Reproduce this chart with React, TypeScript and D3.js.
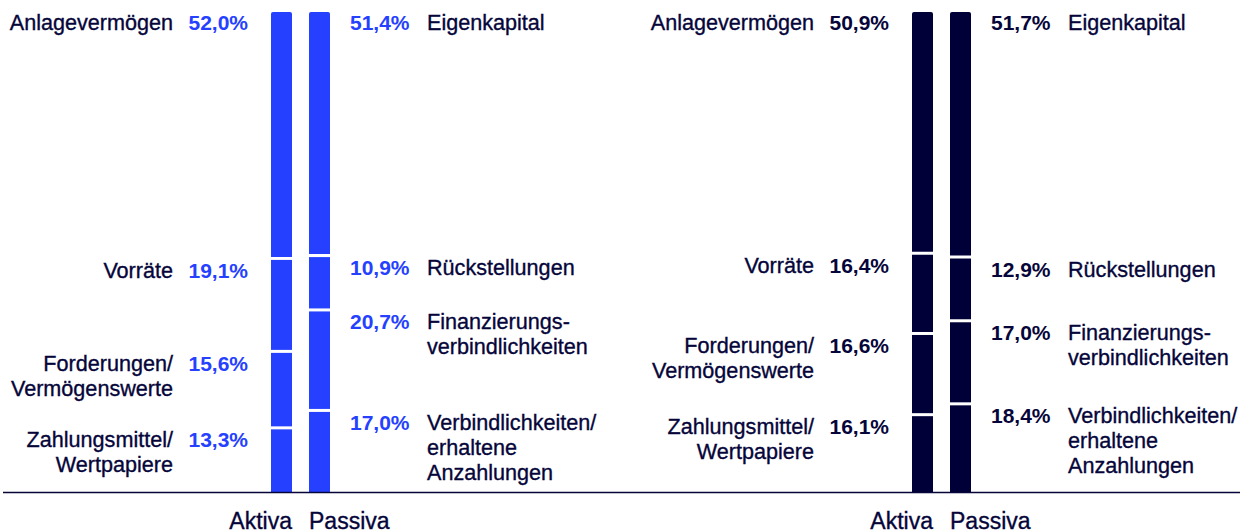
import React from "react";
import * as d3 from "d3";

const aktivaLabels: string[][] = [
  ["Anlagevermögen"],
  ["Vorräte"],
  ["Forderungen/", "Vermögenswerte"],
  ["Zahlungsmittel/", "Wertpapiere"],
];
const passivaLabels: string[][] = [
  ["Eigenkapital"],
  ["Rückstellungen"],
  ["Finanzierungs-", "verbindlichkeiten"],
  ["Verbindlichkeiten/", "erhaltene", "Anzahlungen"],
];
const aktivaLeft = [52.0, 19.1, 15.6, 13.3];
const passivaLeft = [51.4, 10.9, 20.7, 17.0];
const aktivaRight = [50.9, 16.4, 16.6, 16.1];
const passivaRight = [51.7, 12.9, 17.0, 18.4];
const axisLabels = ["Aktiva", "Passiva"];

const W = 1240;
const H = 531;
const TOP = 12;
const BOTTOM = 492;
const GAP = 3;
const BAR_W = 21;
const FONT = "'Liberation Sans', Arial, Helvetica, sans-serif";
const NAVY = "#05053a";
const BLUE = "#2541ff";
const DARK = "#000038";

const fmt = (v: number) => d3.format(".1f")(v).replace(".", ",") + "%";

const y = d3.scaleLinear().domain([0, 100]).range([0, BOTTOM - TOP - 3 * GAP]);

function topRoundedPath(x: number, y0: number, w: number, h: number, r: number) {
  const p = d3.path();
  p.moveTo(x, y0 + h);
  p.lineTo(x, y0 + r);
  p.arcTo(x, y0, x + r, y0, r);
  p.lineTo(x + w - r, y0);
  p.arcTo(x + w, y0, x + w, y0 + r, r);
  p.lineTo(x + w, y0 + h);
  p.closePath();
  return p.toString();
}

const labelStyle = { stroke: NAVY, strokeWidth: 0.35 } as const;

function Panel({
  aktiva,
  passiva,
  barX,
  color,
  valueColor,
}: {
  aktiva: number[];
  passiva: number[];
  barX: number;
  color: string;
  valueColor: string;
}) {
  const aX = barX;
  const pX = barX + 38;
  const stack = (vals: number[]) => {
    let cur = TOP;
    return vals.map((v) => {
      const h = y(v);
      const s = { y0: cur, h, v };
      cur += h + GAP;
      return s;
    });
  };
  const aSeg = stack(aktiva);
  const pSeg = stack(passiva);
  const LH = 25;
  const OFF = 18;
  return (
    <g>
      {aSeg.map((s, i) =>
        i === 0 ? (
          <path key={"a" + i} d={topRoundedPath(aX, s.y0, BAR_W, s.h, 2)} fill={color} />
        ) : (
          <rect key={"a" + i} x={aX} y={s.y0} width={BAR_W} height={s.h} fill={color} />
        )
      )}
      {pSeg.map((s, i) =>
        i === 0 ? (
          <path key={"p" + i} d={topRoundedPath(pX, s.y0, BAR_W, s.h, 2)} fill={color} />
        ) : (
          <rect key={"p" + i} x={pX} y={s.y0} width={BAR_W} height={s.h} fill={color} />
        )
      )}
      {aSeg.map((s, i) => (
        <g key={"al" + i}>
          <text
            x={aX - 23}
            y={s.y0 + OFF}
            textAnchor="end"
            fontWeight="bold"
            fill={valueColor}
          >
            {fmt(s.v)}
          </text>
          <text x={aX - 98} y={s.y0 + OFF} textAnchor="end" fill={NAVY} fontSize={21.6} {...labelStyle}>
            {aktivaLabels[i].map((t, j) => (
              <tspan key={j} x={aX - 98} dy={j === 0 ? 0 : LH}>
                {t}
              </tspan>
            ))}
          </text>
        </g>
      ))}
      {pSeg.map((s, i) => (
        <g key={"pl" + i}>
          <text x={pX + BAR_W + 20} y={s.y0 + OFF} fontWeight="bold" fill={valueColor}>
            {fmt(s.v)}
          </text>
          <text x={pX + BAR_W + 97} y={s.y0 + OFF} fill={NAVY} fontSize={21.6} {...labelStyle}>
            {passivaLabels[i].map((t, j) => (
              <tspan key={j} x={pX + BAR_W + 97} dy={j === 0 ? 0 : LH}>
                {t}
              </tspan>
            ))}
          </text>
        </g>
      ))}
      <text x={aX + BAR_W} y={529} textAnchor="end" fill={NAVY} fontSize={23} {...labelStyle}>
        {axisLabels[0]}
      </text>
      <text x={pX} y={529} fill={NAVY} fontSize={23} {...labelStyle}>
        {axisLabels[1]}
      </text>
    </g>
  );
}

export default function App() {
  return (
    <svg
      width={W}
      height={H}
      style={{ position: "absolute", left: 0, top: 0, background: "#fff" }}
      fontFamily={FONT}
      fontSize={21}
    >
      <Panel aktiva={aktivaLeft} passiva={passivaLeft} barX={271} color={BLUE} valueColor={BLUE} />
      <Panel aktiva={aktivaRight} passiva={passivaRight} barX={912} color={DARK} valueColor={NAVY} />
      <line x1={3} x2={1240} y1={492.5} y2={492.5} stroke={NAVY} strokeWidth={1.5} />
    </svg>
  );
}
